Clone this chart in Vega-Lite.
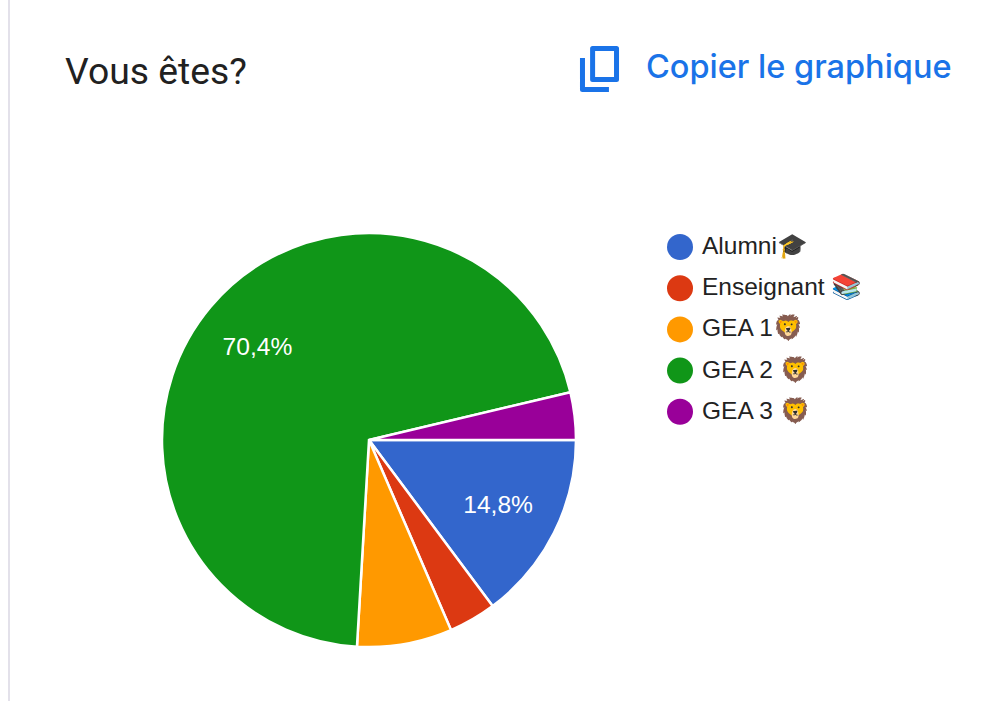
{
  "$schema": "https://vega.github.io/schema/vega-lite/v6.json",
  "width": 412,
  "height": 412,
  "autosize": "none",
  "padding": {"left": 163, "top": 234, "right": 430, "bottom": 55},
  "background": "white",
  "title": {"text": "Vous êtes?", "anchor": "start", "frame": "group", "dx": -98, "dy": 126, "baseline": "alphabetic", "font": "Roboto", "fontSize": 37.3, "fontWeight": "normal", "color": "#212121"},
  "config": {"view": {"stroke": null}},
  "layer": [
    {
      "data": {"values": [{"note": "edge"}]},
      "mark": {"type": "rule", "color": "#e3e1ea", "strokeWidth": 2, "clip": false},
      "encoding": {"x": {"value": -154}, "y": {"value": -234}, "y2": {"value": 467}}
    },
    {
      "data": {"values": [
        {"category": "Alumni🎓", "n": 4, "label": "14,8%"},
        {"category": "Enseignant 📚", "n": 1, "label": ""},
        {"category": "GEA 1🦁", "n": 2, "label": ""},
        {"category": "GEA 2 🦁", "n": 19, "label": "70,4%"},
        {"category": "GEA 3 🦁", "n": 1, "label": ""}
      ]},
      "encoding": {
        "theta": {"field": "n", "type": "quantitative", "stack": true, "scale": {"range": [1.5708, 7.854]}},
        "order": {"field": "category"}
      },
      "layer": [
        {
          "mark": {"type": "arc", "stroke": "white", "strokeWidth": 2.5, "outerRadius": 207},
          "encoding": {
            "color": {
              "field": "category",
              "type": "nominal",
              "scale": {"range": ["#3366cc", "#dc3912", "#ff9900", "#109618", "#990099"]},
              "legend": {
                "title": null,
                "orient": "none",
                "legendX": 504,
                "legendY": 0,
                "symbolType": "circle",
                "symbolSize": 676,
                "symbolStrokeWidth": 0,
                "symbolOpacity": 1,
                "labelFont": "Liberation Sans",
                "labelFontSize": 24.5,
                "labelColor": "#222222",
                "labelLimit": 300,
                "labelOffset": 9,
                "rowPadding": 15.2
              }
            }
          }
        },
        {
          "mark": {"type": "text", "radius": 145, "dy": 1, "dx": -0.5, "font": "Liberation Sans", "fontSize": 24.6, "color": "white"},
          "encoding": {"text": {"field": "label"}}
        }
      ]
    },
    {
      "data": {"values": [{"action": "Copier le graphique"}]},
      "mark": {"type": "text", "align": "left", "baseline": "alphabetic", "font": "Inter", "fontSize": 32.5, "fontWeight": 500, "color": "#1a73e8", "x": 483, "y": -156},
      "encoding": {"text": {"field": "action"}}
    },
    {
      "data": {"values": [{"action": "copy"}]},
      "mark": {"type": "point", "shape": "M-0.3 -0.89H0.74V0.46H-0.3Z M-0.74 -0.48V0.89H0.41", "filled": false, "size": 2116, "stroke": "#1a73e8", "strokeWidth": 5, "strokeJoin": "round", "opacity": 1},
      "encoding": {"x": {"value": 436.5}, "y": {"value": -165}}
    }
  ]
}
